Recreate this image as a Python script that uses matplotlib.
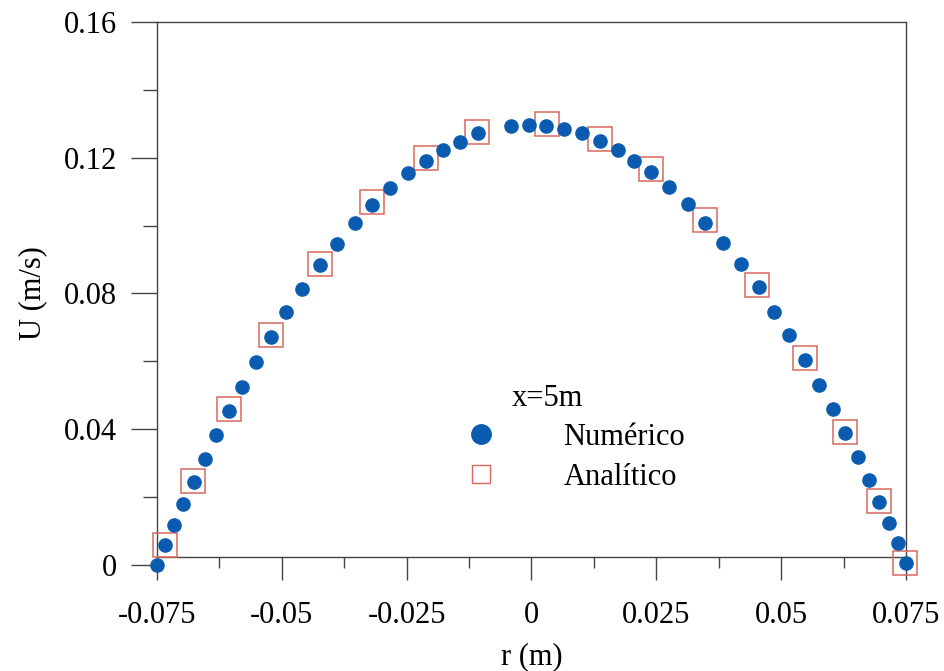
import numpy as np
import matplotlib
matplotlib.use('Agg')
import matplotlib.pyplot as plt
from matplotlib.lines import Line2D
from matplotlib.ticker import MultipleLocator

# Dados
r_num = [-0.0750, -0.0734, -0.0715, -0.0697, -0.0676, -0.0654, -0.0631, -0.0606,
         -0.0579, -0.0551, -0.0522, -0.0491, -0.0459, -0.0424, -0.0389, -0.0354,
         -0.0319, -0.0283, -0.0247, -0.0212, -0.0177, -0.0144, -0.0107, -0.0041,
         -0.0005, 0.0029, 0.0066, 0.0101, 0.0137, 0.0173, 0.0205, 0.0239,
         0.0276, 0.0313, 0.0348, 0.0384, 0.0419, 0.0455, 0.0486, 0.0516,
         0.0548, 0.0576, 0.0604, 0.0628, 0.0653, 0.0675, 0.0696, 0.0716,
         0.0735, 0.0751]
u_num = [0.0000, 0.0059, 0.0118, 0.0180, 0.0245, 0.0312, 0.0383, 0.0455,
         0.0525, 0.0599, 0.0671, 0.0745, 0.0813, 0.0884, 0.0946, 0.1007,
         0.1061, 0.1112, 0.1156, 0.1191, 0.1223, 0.1247, 0.1272, 0.1293,
         0.1296, 0.1293, 0.1284, 0.1272, 0.1250, 0.1223, 0.1191, 0.1157,
         0.1113, 0.1064, 0.1009, 0.0948, 0.0886, 0.0818, 0.0746, 0.0678,
         0.0604, 0.0530, 0.0459, 0.0388, 0.0317, 0.0250, 0.0187, 0.0123,
         0.0064, 0.0007]

r_ana = [-0.0733, -0.0677, -0.0606, -0.0522, -0.0424, -0.0319, -0.0212, -0.0109,
         0.0031, 0.0137, 0.0239, 0.0347, 0.0452, 0.0547, 0.0628, 0.0696, 0.0749]
u_ana = [0.0059, 0.0248, 0.0459, 0.0678, 0.0888, 0.1069, 0.1200, 0.1277,
         0.1299, 0.1255, 0.1167, 0.1017, 0.0824, 0.0610, 0.0393, 0.0188, 0.0007]

x_ticks = [-0.075, -0.05, -0.025, 0, 0.025, 0.05, 0.075]
x_labels = ['-0.075', '-0.05', '-0.025', '0', '0.025', '0.05', '0.075']
y_ticks = [0, 0.04, 0.08, 0.12, 0.16]
y_labels = ['0', '0.04', '0.08', '0.12', '0.16']

azul = '#0b5cb0'
vermelho = '#d8685f'
cinza = '#444444'

plt.rcParams['font.family'] = ['Liberation Serif', 'DejaVu Serif']
plt.rcParams['font.size'] = 22

fig = plt.figure(figsize=(9.45, 6.71), dpi=100)
ax = fig.add_axes([0.1661, 0.158, 0.7926, 0.8092])

ax.plot(r_ana, u_ana, linestyle='none', marker='s', markersize=17,
        markerfacecolor='none', markeredgecolor=vermelho, markeredgewidth=1.1,
        clip_on=False, zorder=3)
ax.plot(r_num, u_num, linestyle='none', marker='o', markersize=9.5,
        color=azul, clip_on=False, zorder=4)

ax.set_xlim(-0.075, 0.075)
ax.set_ylim(0, 0.16)

# eixo x um pouco acima do zero, como no original
y_eixo = 0.0024
ax.spines['bottom'].set_position(('data', y_eixo))
ax.spines['right'].set_bounds(y_eixo, 0.16)
for s in ax.spines.values():
    s.set_color(cinza)
    s.set_linewidth(1.0)

ax.set_xticks(x_ticks)
ax.set_xticklabels(x_labels)
ax.set_yticks(y_ticks)
ax.set_yticklabels(y_labels)
ax.xaxis.set_minor_locator(MultipleLocator(0.0125))
ax.yaxis.set_minor_locator(MultipleLocator(0.02))
ax.tick_params(axis='x', which='major', direction='out', length=16.5, width=1.0,
               color=cinza, pad=15)
ax.tick_params(axis='x', which='minor', direction='out', length=8, width=1.0, color=cinza)
ax.tick_params(axis='y', which='major', direction='out', length=18.5, width=1.0,
               color=cinza, pad=10)
ax.tick_params(axis='y', which='minor', direction='out', length=10, width=1.0, color=cinza)

ax.set_xlabel('r (m)', labelpad=9)
ax.set_ylabel('U (m/s)', labelpad=12)

# Legenda
handles = [
    Line2D([], [], linestyle='none', marker='o', markersize=14, color=azul),
    Line2D([], [], linestyle='none', marker='s', markersize=13,
           markerfacecolor='none', markeredgecolor=vermelho, markeredgewidth=1.0),
]
ax.legend(handles, ['Numérico', 'Analítico'], frameon=False, loc='upper left',
          bbox_to_anchor=(0.412, 0.262), handlelength=1.0, handletextpad=2.2,
          labelspacing=0.36, borderpad=0, borderaxespad=0)
ax.text(0.473, 0.307, 'x=5m', transform=ax.transAxes, ha='left', va='center')

plt.savefig('out.png', dpi=100)
